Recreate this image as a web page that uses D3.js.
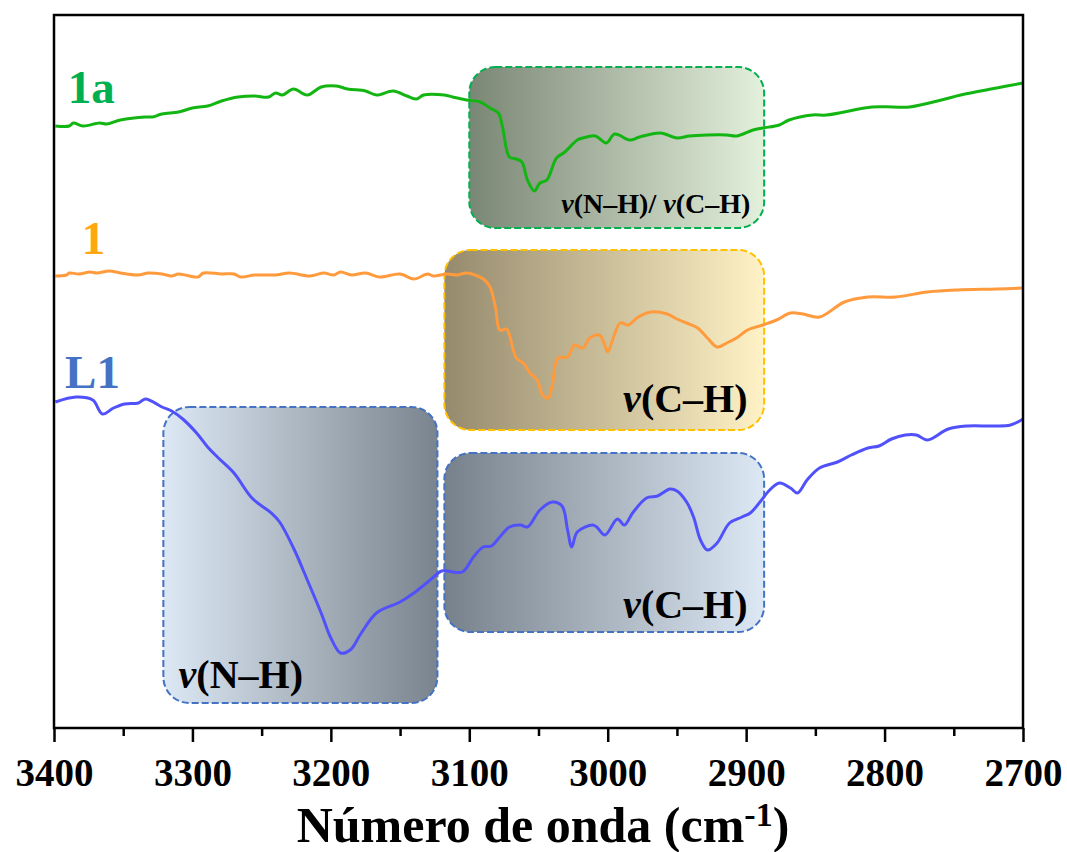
<!DOCTYPE html>
<html><head><meta charset="utf-8">
<script src="https://cdn.jsdelivr.net/npm/d3@7"></script>
<style>body{margin:0;background:#fff}svg{display:block}
svg text{font-family:"Liberation Serif","DejaVu Serif",serif;font-weight:bold}</style>
</head><body>
<svg id="chart" width="1067" height="852"></svg>
<script>
// ---- data (wavenumber in cm^-1, transmittance in offset arbitrary units) ----
const wn1a = [3399,3389,3386,3379,3367,3362,3352,3334,3329,3322,3310,3300,3289,3279,3267,3255,3245,3240,3235,3227,3217,3207,3196,3188,3175,3167,3155,3145,3138,3133,3118,3112,3102,3092,3085,3079,3076,3071,3066,3062,3058,3053,3049,3044,3037,3031,3022,3018,3009,3001,2995,2984,2977,2962,2950,2941,2928,2914,2907,2895,2888,2876,2869,2852,2842,2809,2794,2782,2759,2745,2719,2700];
const t1a  = [60.2,60.2,60.5,60.2,60.5,60.4,60.8,61.1,61.1,61.4,61.6,62.0,62.2,62.7,63.1,63.2,63.1,63.5,63.3,63.9,63.3,64.1,64.2,63.9,63.7,63.3,63.7,63.2,62.9,63.3,63.3,63.1,62.8,62.6,62.0,61.5,60.1,57.1,56.9,56.6,54.8,53.7,54.5,54.8,57.0,57.6,58.8,59.0,59.2,58.5,59.4,58.8,59.1,59.5,59.0,59.2,59.3,59.3,59.2,59.8,60.0,60.3,60.8,61.3,61.3,62.1,62.1,62.1,62.8,63.3,64.0,64.5];

const wn1 = [3399,3391,3389,3382,3374,3369,3360,3352,3339,3332,3322,3315,3310,3296,3292,3279,3270,3265,3255,3240,3230,3215,3205,3198,3193,3185,3175,3165,3150,3140,3130,3126,3116,3109,3102,3094,3089,3085,3081,3078,3073,3071,3066,3061,3056,3051,3047,3043,3040,3036,3029,3024,3018,3013,3006,3003,3000,2996,2991,2985,2979,2969,2957,2950,2943,2935,2928,2921,2914,2907,2899,2888,2878,2868,2859,2847,2829,2812,2792,2769,2747,2719,2700];
const t1  = [45.2,45.3,45.5,45.4,45.6,45.5,45.7,45.5,45.3,45.5,45.4,45.2,45.4,45.1,45.5,45.4,45.4,45.1,45.3,45.3,45.5,45.2,45.5,45.3,45.6,45.3,45.5,45.1,45.4,44.9,45.4,45.2,45.4,45.3,45.5,45.2,44.8,44.1,42.0,39.8,39.9,39.3,37.0,36.5,35.5,34.8,33.3,33.0,34.3,37.0,37.1,38.3,38.0,39.0,39.3,38.6,37.6,39.0,40.5,40.3,41.0,41.6,41.4,40.9,40.5,40.0,39.0,38.1,38.5,39.0,39.8,40.3,40.8,41.5,41.4,41.1,42.6,43.1,43.1,43.6,43.8,43.9,44.0];

const wnL1 = [3399,3384,3372,3365,3357,3349,3339,3334,3322,3315,3307,3297,3289,3282,3270,3257,3243,3237,3227,3217,3207,3200,3193,3186,3178,3167,3150,3140,3130,3120,3116,3105,3097,3090,3084,3078,3071,3063,3058,3049,3040,3033,3029,3026,3022,3011,3008,3002,2993,2988,2982,2972,2964,2955,2950,2943,2938,2933,2928,2921,2912,2903,2897,2890,2883,2876,2868,2863,2856,2847,2834,2824,2812,2804,2795,2785,2777,2769,2754,2740,2722,2709,2700];
const tL1  = [32.6,33.1,32.8,31.4,32.0,32.4,32.5,32.9,32.1,31.7,30.9,29.5,28.1,27.1,25.5,23.0,21.5,20.6,18.0,14.8,11.5,9.0,7.5,7.8,9.5,11.5,12.6,13.5,14.6,15.7,15.7,15.6,17.1,18.1,18.2,19.1,20.1,20.3,20.1,21.8,22.6,22.2,19.8,18.1,19.6,20.3,20.1,19.3,20.9,20.3,21.5,23.0,23.2,23.9,23.7,22.6,21.1,18.8,17.8,18.5,20.5,21.1,21.5,22.6,23.8,24.5,24.0,23.5,24.8,26.0,26.6,27.3,28.0,28.2,28.9,29.3,29.3,28.8,29.9,30.2,30.2,30.3,30.9];

const seriesNames = ["1a", "1", "L1"];
const majorTicks = [3400,3300,3200,3100,3000,2900,2800,2700];
const minorTicks = [3350,3250,3150,3050,2950,2850,2750];

// annotation boxes: wavenumber range, value range
const boxWn0  = [3100, 3118, 3321, 3118];
const boxWn1  = [2887, 2887, 3123, 2887];
const boxTop  = [66.1, 47.8, 32.1, 27.5];
const boxBot  = [50.0, 29.8, 2.5, 9.6];
const boxText = ["(N\u2013H)/ |(C\u2013H)", "(C\u2013H)", "(N\u2013H)", "(C\u2013H)"];
const textWn  = [2897, 2899, 3310, 2899];
const textVal = [51.5, 31.6, 4.0, 11.0];

// label anchors for series names
const labelWn  = [3390, 3380, 3392];
const labelVal = [62.5, 47.4, 34.0];

// ---- chart ----
const svg = d3.select("#chart");
const FONT = "Liberation Serif, DejaVu Serif, serif";
const x = d3.scaleLinear().domain([3400, 2700]).range([54, 1023]);
const y = d3.scaleLinear().domain([0, 71.3]).range([728, 15]);

const defs = svg.append("defs");
const gradStops = [
  ["#7b8775", "#e3f0db"],
  ["#958a6d", "#fff2c6"],
  ["#dce8f4", "#7a848e"],
  ["#77818b", "#dce8f4"]
];
const boxStroke = ["#00b050", "#ffc000", "#4472c4", "#4472c4"];
gradStops.forEach((g, i) => {
  const lg = defs.append("linearGradient").attr("id", "g" + i)
    .attr("x1", "0%").attr("x2", "100%").attr("y1", "0%").attr("y2", "0%");
  lg.append("stop").attr("offset", "0%").attr("stop-color", g[0]);
  lg.append("stop").attr("offset", "100%").attr("stop-color", g[1]);
});

// boxes
boxWn0.forEach((w0, i) => {
  svg.append("rect")
    .attr("x", x(w0)).attr("y", y(boxTop[i]))
    .attr("width", x(boxWn1[i]) - x(w0)).attr("height", y(boxBot[i]) - y(boxTop[i]))
    .attr("rx", 26).attr("ry", 26)
    .attr("fill", `url(#g${i})`)
    .attr("stroke", boxStroke[i]).attr("stroke-width", 2)
    .attr("stroke-dasharray", "7,3");
});

// lines
const line = d3.line().x(d => x(d[0])).y(d => y(d[1])).curve(d3.curveCatmullRom.alpha(0.5));
const series = [
  {wn: wn1a, t: t1a, color: "#13b513"},
  {wn: wn1,  t: t1,  color: "#ff9a3d"},
  {wn: wnL1, t: tL1, color: "#5151fb"}
];
series.forEach(s => {
  svg.append("path").datum(d3.zip(s.wn, s.t))
    .attr("d", line).attr("fill", "none")
    .attr("stroke", s.color).attr("stroke-width", 3)
    .attr("stroke-linejoin", "round");
});

// box labels
const boxSizes = [28, 40, 40, 40];
boxText.forEach((txt, i) => {
  const t = svg.append("text")
    .attr("x", x(textWn[i])).attr("y", y(textVal[i]))
    .attr("text-anchor", i === 2 ? "start" : "end")
    .attr("font-size", boxSizes[i]).attr("fill", "#000");
  txt.split("|").forEach(part => {
    t.append("tspan").attr("font-style", "italic").text("\u03bd");
    t.append("tspan").text(part);
  });
});

// series labels
const labelColors = ["#00b050", "#ffa70f", "#4472c4"];
seriesNames.forEach((n, i) => {
  svg.append("text").attr("x", x(labelWn[i])).attr("y", y(labelVal[i]))
    .attr("font-size", 47).attr("fill", labelColors[i]).text(n);
});

// axes
const gx = svg.append("g").attr("transform", "translate(0,728)");
gx.call(d3.axisBottom(x).tickValues(majorTicks).tickSize(14).tickSizeOuter(0)
  .tickPadding(16).tickFormat(d3.format("d")));
gx.select(".domain").remove();
gx.attr("font-family", FONT);
gx.selectAll(".tick line").attr("stroke", "#000").attr("stroke-width", 2.5);
gx.selectAll(".tick text").attr("font-size", 39).attr("fill", "#000");
const gm = svg.append("g").attr("transform", "translate(0,728)");
gm.call(d3.axisBottom(x).tickValues(minorTicks).tickSize(8).tickSizeOuter(0).tickFormat(""));
gm.select(".domain").remove();
gm.selectAll(".tick line").attr("stroke", "#000").attr("stroke-width", 2.5);

// frame
svg.append("rect").attr("x", x(3400)).attr("y", y(71.3))
  .attr("width", x(2700) - x(3400)).attr("height", y(0) - y(71.3))
  .attr("fill", "none").attr("stroke", "#000").attr("stroke-width", 2.5);

// axis title
const title = svg.append("text").attr("x", 543).attr("y", 842)
  .attr("text-anchor", "middle")
  .attr("font-size", 50).attr("fill", "#000");
title.append("tspan").text("N\u00famero de onda (cm");
title.append("tspan").attr("font-size", 34).attr("dy", -16).text("-1");
title.append("tspan").attr("dy", 16).text(")");
</script>
</body></html>
